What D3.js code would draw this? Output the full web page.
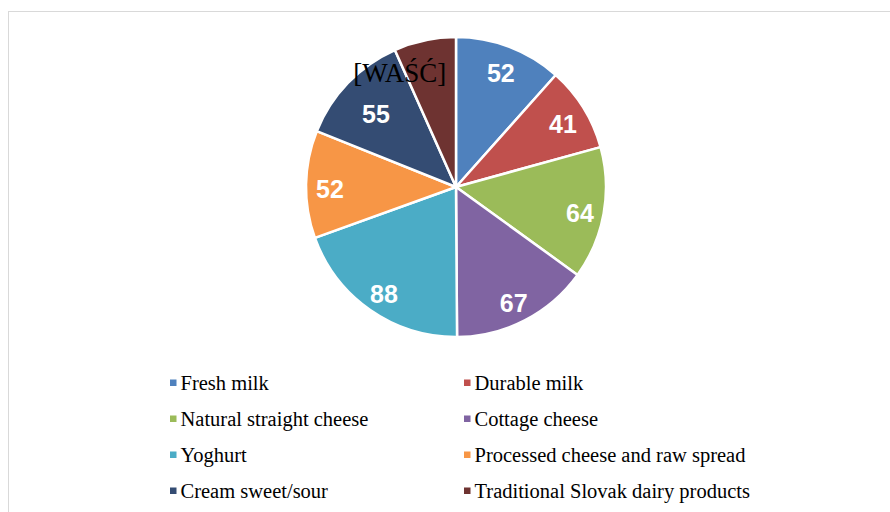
<!DOCTYPE html>
<html lang="en">
<head>
  <meta charset="UTF-8">
  <title>Dairy products</title>
  <style type="text/css">
    body { margin: 0px; background: #fff; }
    .value-label {
      fill: #fff;
      font-family: "Liberation Sans", Arial, sans-serif;
      font-weight: bold;
      font-size: 25px;
    }
    .legend text {
      fill: #000;
      font-family: "Liberation Serif", "Times New Roman", serif;
      font-size: 20.5px;
    }
  </style>
  <script src="https://d3js.org/d3.v7.min.js"></script>
</head>
<body>
  <svg width="890" height="512"></svg>
  <script>

    const categories = [
      'Fresh milk', 'Durable milk', 'Natural straight cheese', 'Cottage cheese',
      'Yoghurt', 'Processed cheese and raw spread', 'Cream sweet/sour',
      'Traditional Slovak dairy products'
    ];
    const values = [52, 41, 64, 67, 88, 52, 55, 30];
    const labels = ['52', '41', '64', '67', '88', '52', '55', '[WAŚĆ]'];
    const colors = ['#4f81bd', '#c0504d', '#9bbb59', '#8064a2',
                    '#4bacc6', '#f79646', '#344c73', '#6e3331'];

    const data = categories.map((c, i) => ({ name: c, value: values[i], label: labels[i] }));

    const svg = d3.select('svg');
    const width = +svg.attr('width');
    const height = +svg.attr('height');

    // chart area frame
    svg.append('rect')
      .attr('x', 8.5).attr('y', 11.5)
      .attr('width', width + 10).attr('height', height)
      .attr('fill', 'none')
      .attr('stroke', '#d9d9d9');

    const cx = 456, cy = 187, radius = 150;

    const color = d3.scaleOrdinal().domain(categories).range(colors);
    const pie = d3.pie().value(d => d.value).sort(null);
    const arc = d3.arc().innerRadius(0).outerRadius(radius);
    const labelArc = d3.arc().innerRadius(radius * 0.84).outerRadius(radius * 0.84);
    const innerLabelArc = d3.arc().innerRadius(radius * 0.74).outerRadius(radius * 0.74);

    const arcs = pie(data);
    const pieG = svg.append('g').attr('transform', `translate(${cx},${cy})`);

    pieG.selectAll('path').data(arcs)
      .enter().append('path')
        .attr('d', arc)
        .attr('fill', d => color(d.data.name))
        .attr('stroke', '#fff')
        .attr('stroke-width', 2.5)
        .attr('stroke-linejoin', 'round');

    pieG.selectAll('text').data(arcs)
      .enter().append('text')
        .attr('class', d => d.index === 7 ? 'wasc' : 'value-label')
        .attr('transform', d => {
          const [x, y] = (d.index === 6 ? innerLabelArc : labelArc).centroid(d);
          return d.index === 7 ? `translate(${x - 30},${y + 8})` : `translate(${x},${y + 4})`;
        })
        .attr('text-anchor', 'middle')
        .attr('dy', '0.36em')
        .style('fill', d => d.index === 7 ? '#000' : null)
        .style('font-family', d => d.index === 7 ? '"Liberation Serif", "Times New Roman", serif' : null)
        .style('font-size', d => d.index === 7 ? '27px' : null)
        .text(d => d.data.label);

    // legend: two columns, four rows
    const colX = d3.scaleOrdinal().domain([0, 1]).range([170, 464]);
    const rowY = d3.scaleLinear().domain([0, 3]).range([383, 491]);

    const legend = svg.append('g').attr('class', 'legend');
    const item = legend.selectAll('g').data(data)
      .enter().append('g')
        .attr('transform', (d, i) => `translate(${colX(i % 2)},${rowY(Math.floor(i / 2))})`);

    item.append('rect')
      .attr('x', 0).attr('y', -3.5)
      .attr('width', 6.5).attr('height', 6.5)
      .attr('fill', d => color(d.name));

    item.append('text')
      .attr('x', 10.5)
      .attr('dy', '0.33em')
      .text(d => d.name);

  </script>
</body>
</html>
